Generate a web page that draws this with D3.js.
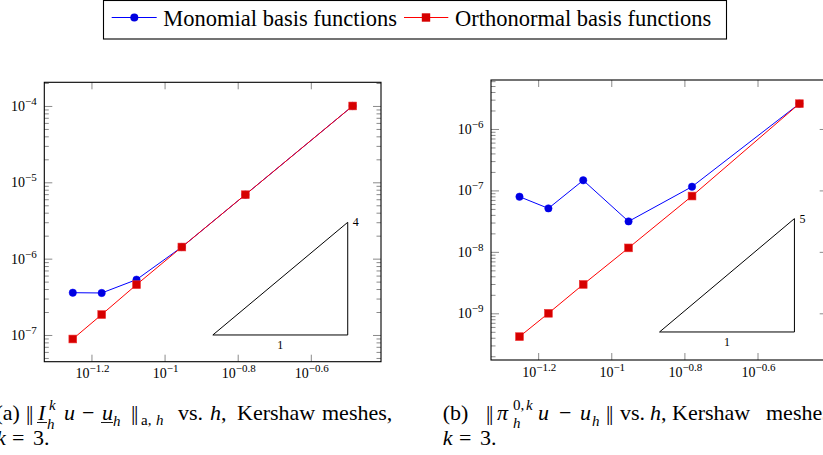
<!DOCTYPE html>
<html>
<head>
<meta charset="utf-8">
<script src="https://cdn.jsdelivr.net/npm/d3@7"></script>
<style>
  html, body { margin: 0; padding: 0; background: #fff; }
  svg { display: block; font-family: "Liberation Serif", "Times New Roman", serif; }
</style>
</head>
<body>
<svg id="chart" width="823" height="455"></svg>
<script>
// ---------------- data ----------------
const meshSizes = [0.0561, 0.0673, 0.0838, 0.1115, 0.1663, 0.327];
const errEnergyMonomial = [3.58e-7, 3.55e-7, 5.31e-7, 1.42e-6, 6.88e-6, 1.0e-4];
const errEnergyOrtho = [8.86e-8, 1.85e-7, 4.56e-7, 1.42e-6, 6.88e-6, 1.0e-4];
const errL2Monomial = [7.9e-8, 5.1e-8, 1.46e-7, 3.13e-8, 1.15e-7, 2.58e-6];
const errL2Ortho = [4.17e-10, 1.0e-9, 2.95e-9, 1.16e-8, 8.1e-8, 2.58e-6];
const xTickExponents = [-1.2, -1, -0.8, -0.6];
const xTickLabels = ["\u22121.2", "\u22121", "\u22120.8", "\u22120.6"];
const yTickExpA = [-7, -6, -5, -4];
const yTickExpB = [-9, -8, -7, -6];
const legendLabels = ["Monomial basis functions", "Orthonormal basis functions"];
const slopeA = 4, slopeB = 5;

// ---------------- layout ----------------
const svg = d3.select("#chart");
const BLUE = "#0000ff", RED = "#ff0000";

const panels = [
  { left: 44.3, top: 82.3, width: 336.7, height: 279.4,
    xDom: [Math.pow(10, -1.329), Math.pow(10, -0.408)],
    yDom: [Math.pow(10, -7.35), Math.pow(10, -3.69)],
    yExp: yTickExpA, mono: errEnergyMonomial, ortho: errEnergyOrtho,
    tri: { x0: Math.pow(10, -0.868), x1: Math.pow(10, -0.499), y0: 1e-7, slope: slopeA } },
  { left: 491, top: 80, width: 336.7, height: 280,
    xDom: [Math.pow(10, -1.329), Math.pow(10, -0.408)],
    yDom: [Math.pow(10, -9.76), Math.pow(10, -5.203)],
    yExp: yTickExpB, mono: errL2Monomial, ortho: errL2Ortho,
    tri: { x0: Math.pow(10, -0.868), x1: Math.pow(10, -0.499), y0: Math.pow(10, -9.304), slope: slopeB } }
];

function minorTicks(dom) {
  const lo = Math.floor(Math.log10(dom[0])), hi = Math.ceil(Math.log10(dom[1]));
  const out = [];
  for (let e = lo; e <= hi; e++) for (let m = 2; m <= 9; m++) {
    const v = m * Math.pow(10, e);
    if (v >= dom[0] && v <= dom[1]) out.push(v);
  }
  return out;
}

panels.forEach(p => {
  const x = d3.scaleLog().domain(p.xDom).range([p.left, p.left + p.width]);
  const y = d3.scaleLog().domain(p.yDom).range([p.top + p.height, p.top]);
  const g = svg.append("g");
  const xMaj = xTickExponents.map(e => Math.pow(10, e));
  const yMaj = p.yExp.map(e => Math.pow(10, e));
  const yMin = minorTicks(p.yDom);

  const tickStyle = sel => {
    sel.select(".domain").remove();
    sel.selectAll(".tick line").attr("stroke", "#8a8a8a").attr("stroke-width", 1);
  };
  g.append("g").attr("transform", `translate(0,${p.top + p.height})`)
    .call(d3.axisBottom(x).tickValues(xMaj).tickSize(-7).tickFormat("")).call(tickStyle);
  g.append("g").attr("transform", `translate(0,${p.top})`)
    .call(d3.axisTop(x).tickValues(xMaj).tickSize(-7).tickFormat("")).call(tickStyle);
  g.append("g").attr("transform", `translate(${p.left},0)`)
    .call(d3.axisLeft(y).tickValues(yMaj).tickSize(-8).tickFormat("")).call(tickStyle);
  g.append("g").attr("transform", `translate(${p.left},0)`)
    .call(d3.axisLeft(y).tickValues(yMin).tickSize(-4.5).tickFormat("")).call(tickStyle);
  g.append("g").attr("transform", `translate(${p.left + p.width},0)`)
    .call(d3.axisRight(y).tickValues(yMaj).tickSize(-8).tickFormat("")).call(tickStyle);
  g.append("g").attr("transform", `translate(${p.left + p.width},0)`)
    .call(d3.axisRight(y).tickValues(yMin).tickSize(-4.5).tickFormat("")).call(tickStyle);

  // x tick labels
  xMaj.forEach((v, i) => {
    const t = g.append("text").attr("x", x(v) + 1).attr("y", p.top + p.height + 16.5)
      .attr("text-anchor", "middle").attr("font-size", 14).attr("fill", "#000");
    t.append("tspan").text("10");
    t.append("tspan").attr("dy", -6).attr("font-size", 11).text(xTickLabels[i]);
  });
  // y tick labels
  p.yExp.forEach(e => {
    const t = g.append("text").attr("x", p.left - 7.5).attr("y", y(Math.pow(10, e)) + 5)
      .attr("text-anchor", "end").attr("font-size", 14).attr("fill", "#000");
    t.append("tspan").text("10");
    t.append("tspan").attr("dy", -6).attr("font-size", 11).text("\u2212" + Math.abs(e));
  });

  // slope triangle
  const tr = p.tri;
  const y1 = tr.y0 * Math.pow(tr.x1 / tr.x0, tr.slope);
  g.append("path")
    .attr("d", `M${x(tr.x0)},${y(tr.y0)} L${x(tr.x1)},${y(tr.y0)} L${x(tr.x1)},${y(y1)} Z`)
    .attr("fill", "none").attr("stroke", "#000").attr("stroke-width", 1);
  g.append("text").attr("x", (x(tr.x0) + x(tr.x1)) / 2).attr("y", y(tr.y0) + 14)
    .attr("text-anchor", "middle").attr("font-size", 12).text("1");
  g.append("text").attr("x", x(tr.x1) + 5).attr("y", y(y1) + 4)
    .attr("font-size", 12).text(String(tr.slope));

  // frame
  g.append("rect").attr("x", p.left).attr("y", p.top).attr("width", p.width).attr("height", p.height)
    .attr("fill", "none").attr("stroke", "#000").attr("stroke-width", 1.1);

  // series
  const line = d3.line().x((d, i) => x(meshSizes[i])).y(d => y(d));
  g.append("path").datum(p.mono).attr("d", line).attr("fill", "none").attr("stroke", BLUE).attr("stroke-width", 1);
  g.selectAll(null).data(p.mono).enter().append("circle")
    .attr("cx", (d, i) => x(meshSizes[i])).attr("cy", d => y(d)).attr("r", 3.7)
    .attr("fill", "#0000e0").attr("stroke", "#0000ff").attr("stroke-width", 0.5);
  g.append("path").datum(p.ortho).attr("d", line).attr("fill", "none").attr("stroke", RED).attr("stroke-width", 1);
  g.selectAll(null).data(p.ortho).enter().append("rect")
    .attr("x", (d, i) => x(meshSizes[i]) - 3.9).attr("y", d => y(d) - 3.9)
    .attr("width", 7.8).attr("height", 7.8)
    .attr("fill", "#d60000").attr("stroke", "#f03030").attr("stroke-width", 0.6);
});

// ---------------- legend ----------------
const lg = svg.append("g");
lg.append("rect").attr("x", 103.5).attr("y", 0.5).attr("width", 623).attr("height", 38.5)
  .attr("fill", "#fff").attr("stroke", "#000").attr("stroke-width", 1.1);
const ly = 17.5;
lg.append("line").attr("x1", 111.7).attr("x2", 156.7).attr("y1", ly).attr("y2", ly).attr("stroke", BLUE);
lg.append("circle").attr("cx", 134.3).attr("cy", ly).attr("r", 4).attr("fill", "#0000e0");
lg.append("text").attr("x", 163.3).attr("y", 25.5).attr("font-size", 22.5).text(legendLabels[0]);
lg.append("line").attr("x1", 404).attr("x2", 448.3).attr("y1", ly).attr("y2", ly).attr("stroke", RED);
lg.append("rect").attr("x", 426 - 4.2).attr("y", ly - 4.2).attr("width", 8.4).attr("height", 8.4).attr("fill", "#d60000");
lg.append("text").attr("x", 455).attr("y", 25.5).attr("font-size", 22.5).text(legendLabels[1]);

// ---------------- captions ----------------
const cap = svg.append("g").attr("font-size", 22).attr("fill", "#000");
function piece(txt, x, y, opts = {}) {
  const t = cap.append("text").attr("x", x).attr("y", y).text(txt);
  if (opts.italic) t.attr("font-style", "italic");
  if (opts.size) t.attr("font-size", opts.size);
  if (opts.ls != null) t.attr("letter-spacing", opts.ls);
  return t;
}
function uline(x1, x2, y) {
  cap.append("line").attr("x1", x1).attr("x2", x2).attr("y1", y).attr("y2", y)
    .attr("stroke", "#000").attr("stroke-width", 0.9);
}
const bars = "||";
// (a)
const b1 = 420, b2 = 445;
piece("(a)", -4.5, b1);
piece(bars, 26, b1, { ls: -1.5 });
piece("I", 38, b1, { italic: true });
uline(37, 47, b1 + 2.5);
piece("k", 49, b1 - 10, { italic: true, size: 15 });
piece("h", 47, b1 + 9, { italic: true, size: 15 });
piece("u", 64, b1, { italic: true });
piece("\u2212", 82, b1);
piece("u", 102, b1, { italic: true });
uline(101, 113, b1 + 2.5);
piece("h", 113, b1 + 6, { italic: true, size: 15 });
piece(bars, 131, b1, { ls: -1.5 });
piece("a,", 141, b1 + 5, { size: 15 });
piece("h", 156, b1 + 5, { italic: true, size: 15 });
piece("vs.", 178, b1);
piece("h", 210, b1, { italic: true });
piece(",", 221, b1);
piece("Kershaw", 237, b1);
piece("meshes,", 322, b1);
piece("k", -4, b2, { italic: true });
piece("=", 12, b2);
piece("3.", 33, b2);
// (b)
piece("(b)", 442.7, b1);
piece(bars, 486, b1, { ls: -1.5 });
piece("\u03c0", 497, b1, { italic: true });
piece("0,", 513, b1 - 10, { size: 15 });
piece("k", 526, b1 - 10, { italic: true, size: 15 });
piece("h", 513, b1 + 8, { italic: true, size: 15 });
piece("u", 538, b1, { italic: true });
piece("\u2212", 559, b1);
piece("u", 580, b1, { italic: true });
piece("h", 592, b1 + 6, { italic: true, size: 15 });
piece(bars, 606, b1, { ls: -1.5 });
piece("vs.", 620, b1);
piece("h", 650, b1, { italic: true });
piece(",", 661, b1);
piece("Kershaw", 672, b1);
piece("meshes,", 766, b1);
piece("k", 442.7, b2, { italic: true });
piece("=", 459, b2);
piece("3.", 480, b2);
</script>
</body>
</html>
